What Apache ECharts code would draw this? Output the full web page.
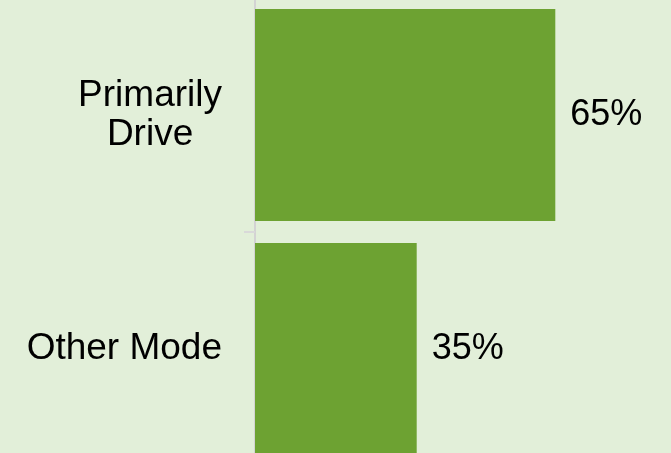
<!DOCTYPE html>
<html>
<head>
<meta charset="utf-8">
<script src="https://cdn.jsdelivr.net/npm/echarts@6/dist/echarts.min.js"></script>
<style>
html,body{margin:0;padding:0;background:#E2EFD9;}
#chart{width:671px;height:453px;}
</style>
</head>
<body>
<div id="chart"></div>
<script>
const categories = ['Primarily Drive', 'Other Mode'];
const values = [65, 35];

const chart = echarts.init(document.getElementById('chart'));
chart.setOption({
  backgroundColor: '#E2EFD9',
  animation: false,
  grid: { left: 255, top: -2, width: 462, height: 468, outerBoundsMode: 'none', containLabel: false },
  xAxis: { type: 'value', min: 0, max: 100, show: false },
  yAxis: {
    type: 'category',
    inverse: true,
    data: categories,
    axisLine: { show: true, lineStyle: { color: '#D3D3D3', width: 2 } },
    axisTick: { show: true, length: 11, lineStyle: { color: '#D9D9D9', width: 2 } },
    axisLabel: {
      margin: 33,
      color: '#000',
      fontFamily: 'Liberation Sans, Arial, sans-serif',
      fontSize: 37,
      lineHeight: 39,
      formatter: function (v) {
        if (v === 'Primarily Drive') return '{c|Primarily}\n{c|Drive}';
        return v;
      },
      rich: {
        c: { align: 'center', fontSize: 37, lineHeight: 39, color: '#000', fontFamily: 'Liberation Sans, Arial, sans-serif' }
      }
    }
  },
  series: [{
    type: 'bar',
    data: values,
    barCategoryGap: '9.4%',
    itemStyle: { color: '#6DA232' },
    label: {
      show: true,
      position: 'right',
      distance: 15,
      formatter: '{c}%',
      color: '#000',
      fontFamily: 'Liberation Sans, Arial, sans-serif',
      fontSize: 36
    }
  }]
});
</script>
</body>
</html>
